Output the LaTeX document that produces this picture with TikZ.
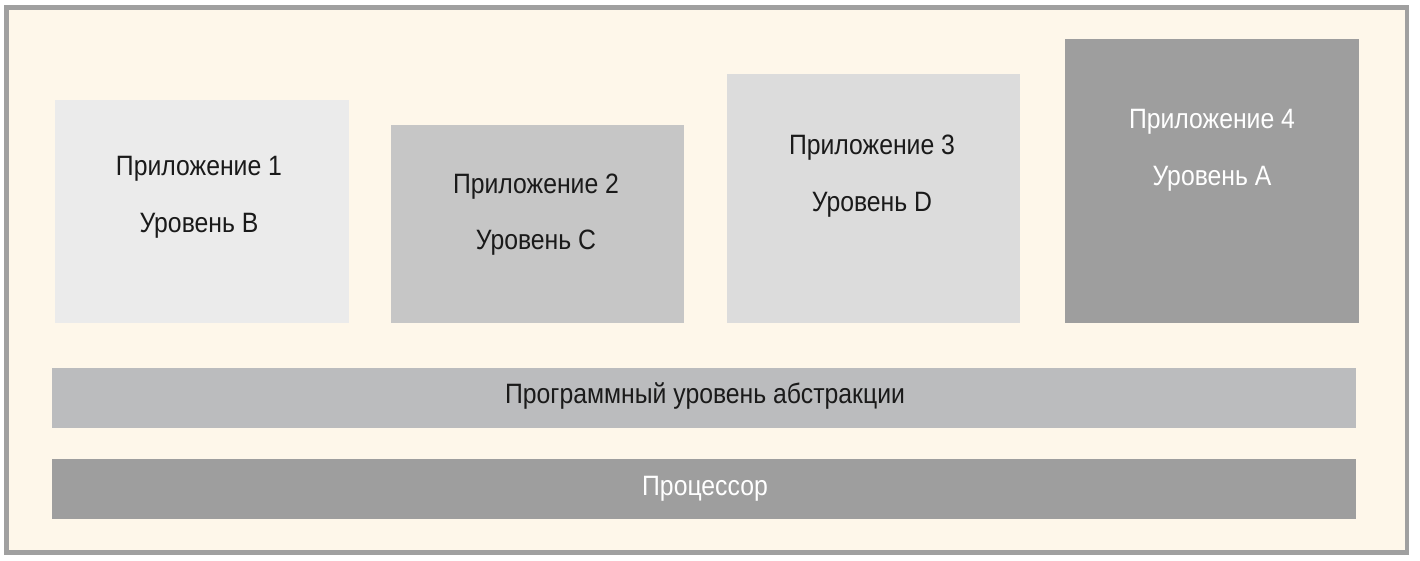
\documentclass[tikz,border=0pt]{standalone}
\usepackage{fontspec}
\setmainfont{Liberation Sans}[FakeStretch=0.885]
\definecolor{cream}{HTML}{FEF7EA}
\definecolor{framegray}{HTML}{A0A0A0}
\definecolor{boxA}{HTML}{EBEBEB}
\definecolor{boxB}{HTML}{C6C6C6}
\definecolor{boxC}{HTML}{DCDCDC}
\definecolor{boxD}{HTML}{9E9E9E}
\definecolor{barA}{HTML}{BBBCBE}
\definecolor{darktext}{HTML}{1A1A1A}
\begin{document}
\begin{tikzpicture}[x=1pt,y=-1pt,
  panel/.style={draw=none,inner sep=0pt,outer sep=0pt},
  lbl/.style={anchor=base,inner sep=0pt,text=darktext,font=\fontsize{28}{31}\selectfont},
  lblw/.style={lbl,text=white}]
\useasboundingbox (0,0) rectangle (1420,560);
% outer frame
\draw[fill=cream,draw=framegray,line width=4.5pt] (6.5,7.5) rectangle (1407,552.5);
% application boxes
\fill[boxA] (55,100) rectangle (349,323);
\fill[boxB] (391,125) rectangle (684,323);
\fill[boxC] (727,74) rectangle (1020,323);
\fill[boxD] (1065,39) rectangle (1359,323);
% bars
\fill[barA] (52,368) rectangle (1356,428);
\fill[boxD] (52,459) rectangle (1356,519);
% labels
\node[lbl] (a1) at (199,175) {Приложение 1};
\node[lbl] (b1) at (199,232) {Уровень B};
\node[lbl] (a2) at (536,193) {Приложение 2};
\node[lbl] (b2) at (536,249) {Уровень C};
\node[lbl] (a3) at (872,154) {Приложение 3};
\node[lbl] (b3) at (872,211) {Уровень D};
\node[lblw] (a4) at (1212,128) {Приложение 4};
\node[lblw] (b4) at (1212,185) {Уровень A};
\node[lbl] (hal) at (705,403) {Программный уровень абстракции};
\node[lblw] (cpu) at (705,495) {Процессор};
\end{tikzpicture}
\end{document}
